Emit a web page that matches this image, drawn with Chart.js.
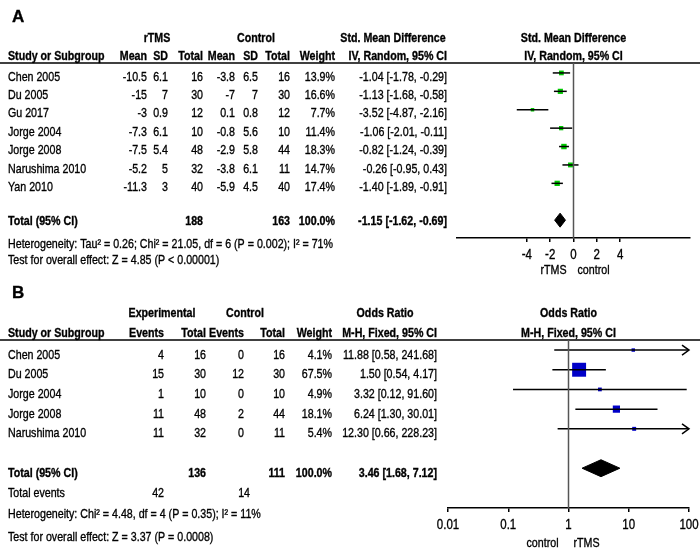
<!DOCTYPE html>
<html>
<head>
<meta charset="utf-8">
<script src="https://cdn.jsdelivr.net/npm/chart.js@4.4.0/dist/chart.umd.min.js"></script>
<style>
  body { margin: 0; background: #fff; }
  .panel { position: absolute; left: 0; width: 700px; }
  #panelA { top: 0; height: 280px; }
  #panelB { top: 280px; height: 278px; }
</style>
</head>
<body>
<div class="panel" id="panelA"><canvas id="chartA" width="700" height="280"></canvas></div>
<div class="panel" id="panelB"><canvas id="chartB" width="700" height="278"></canvas></div>
<script>
// ---- Panel A: rTMS vs control, std. mean difference ----
const studiesA = ['Chen 2005', 'Du 2005', 'Gu 2017', 'Jorge 2004', 'Jorge 2008', 'Narushima 2010', 'Yan 2010'];
const rtmsMean = [-10.5, -15, -3, -7.3, -7.5, -5.2, -11.3];
const rtmsSD = [6.1, 7, 0.9, 6.1, 5.4, 5, 3];
const rtmsTotal = [16, 30, 12, 10, 48, 32, 40];
const ctrlMean = [-3.8, -7, 0.1, -0.8, -2.9, -3.8, -5.9];
const ctrlSD = [6.5, 7, 0.8, 5.6, 5.8, 6.1, 4.5];
const ctrlTotal = [16, 30, 12, 10, 44, 11, 40];
const weightA = [13.9, 16.6, 7.7, 11.4, 18.3, 14.7, 17.4];
const smdEst = [-1.04, -1.13, -3.52, -1.06, -0.82, -0.26, -1.40];
const smdLow = [-1.78, -1.68, -4.87, -2.01, -1.24, -0.95, -1.89];
const smdHigh = [-0.29, -0.58, -2.16, -0.11, -0.39, 0.43, -0.91];
const totalA = { est: -1.15, low: -1.62, high: -0.69, n1: 188, n2: 163 };
const ticksA = [-4, -2, 0, 2, 4];

// ---- Panel B: response, odds ratio ----
const studiesB = ['Chen 2005', 'Du 2005', 'Jorge 2004', 'Jorge 2008', 'Narushima 2010'];
const expEvents = [4, 15, 1, 11, 11];
const expTotal = [16, 30, 10, 48, 32];
const ctlEvents = [0, 12, 0, 2, 0];
const ctlTotal = [16, 30, 10, 44, 11];
const weightB = [4.1, 67.5, 4.9, 18.1, 5.4];
const orEst = [11.88, 1.50, 3.32, 6.24, 12.30];
const orLow = [0.58, 0.54, 0.12, 1.30, 0.66];
const orHigh = [241.68, 4.17, 91.60, 30.01, 228.23];
const totalB = { est: 3.46, low: 1.68, high: 7.12, n1: 136, n2: 111, ev1: 42, ev2: 14 };
const ticksB = [0.01, 0.1, 1, 10, 100];

const FONT = "'Liberation Sans', Arial, sans-serif";
const NARROW = 0.82; // squeeze to look like Arial Narrow
const GREEN = '#00c800';
const BLUE = '#0000c8';

function txt(ctx, s, x, y, align, bold, size, squeeze) {
  ctx.save();
  ctx.font = (bold ? 'bold ' : '') + (size || 13) + 'px ' + FONT;
  ctx.textAlign = align || 'left';
  ctx.textBaseline = 'middle';
  ctx.fillStyle = '#000';
  ctx.strokeStyle = '#000';
  ctx.lineWidth = 0.35;
  ctx.translate(x, y);
  ctx.scale(squeeze || NARROW, 1);
  ctx.fillText(s, 0, 0);
  ctx.strokeText(s, 0, 0);
  ctx.restore();
}

function ci(est, lo, hi) {
  return est.toFixed(2) + ' [' + lo.toFixed(2) + ', ' + hi.toFixed(2) + ']';
}

// CI whiskers: one small line dataset per study
function whiskers(lows, highs) {
  return lows.map((lo, i) => ({
    data: [{ x: lo, y: i }, { x: highs[i], y: i }],
    borderColor: '#000',
    borderWidth: 1.5,
    pointRadius: 0
  }));
}

function diamond(t, row, half) {
  return {
    data: [
      { x: t.low, y: row }, { x: t.est, y: row - half },
      { x: t.high, y: row }, { x: t.est, y: row + half }, { x: t.low, y: row }
    ],
    borderColor: '#000',
    borderWidth: 1,
    backgroundColor: '#000',
    fill: 'shape',
    pointRadius: 0
  };
}

// tick labels are drawn by the plugin (narrow font), Chart.js draws axis line + tick marks
function commonX(extra) {
  return Object.assign({
    position: 'bottom',
    afterFit: (s) => { s.height = extra.h; },
    grid: { drawOnChartArea: false, drawTicks: true, tickLength: 4, color: '#000', lineWidth: 1.5 },
    border: { display: true, color: '#000', width: 1.5 },
    ticks: { display: false, autoSkip: false }
  }, extra.opts);
}

function drawTickLabels(ctx, scale, fmt) {
  scale.ticks.forEach(t => {
    txt(ctx, fmt(t.value), scale.getPixelForValue(t.value), scale.top + 17, 'center', false, 14);
  });
}

// ---- Chart A ----
const rowA = studiesA.length + 1; // total row after one blank row
const tablePluginA = {
  id: 'tableA',
  afterDraw(chart) {
    const ctx = chart.ctx;
    const x = chart.scales.x, y = chart.scales.y;
    const area = chart.chartArea;
    ctx.save();
    // letter and headers
    txt(ctx, 'A', 12, 17, 'left', true, 17, 1);
    txt(ctx, 'rTMS', 157, 38, 'center', true);
    txt(ctx, 'Control', 256, 38, 'center', true);
    txt(ctx, 'Std. Mean Difference', 393, 38, 'center', true);
    txt(ctx, 'Std. Mean Difference', x.getPixelForValue(0), 38, 'center', true);
    txt(ctx, 'Study or Subgroup', 8, 56, 'left', true);
    const cols = [147, 168, 203, 235, 258, 290, 335, 447];
    const heads = ['Mean', 'SD', 'Total', 'Mean', 'SD', 'Total', 'Weight', 'IV, Random, 95% CI'];
    heads.forEach((h, i) => txt(ctx, h, cols[i], 56, 'right', true));
    txt(ctx, 'IV, Random, 95% CI', x.getPixelForValue(0), 56, 'center', true);
    // header rule
    ctx.strokeStyle = '#000';
    ctx.lineWidth = 1.5;
    ctx.beginPath(); ctx.moveTo(0, area.top); ctx.lineTo(700, area.top); ctx.stroke();
    // null effect line
    ctx.strokeStyle = '#555';
    ctx.lineWidth = 1.5;
    const zx = x.getPixelForValue(0);
    ctx.beginPath(); ctx.moveTo(zx, area.top); ctx.lineTo(zx, area.bottom); ctx.stroke();
    // rows
    studiesA.forEach((s, i) => {
      const py = y.getPixelForValue(i) + 4;
      txt(ctx, s, 8, py, 'left');
      const vals = [rtmsMean[i], rtmsSD[i], rtmsTotal[i], ctrlMean[i], ctrlSD[i], ctrlTotal[i]].map(String);
      vals.push(weightA[i].toFixed(1) + '%');
      vals.push(ci(smdEst[i], smdLow[i], smdHigh[i]));
      vals.forEach((v, j) => txt(ctx, v, cols[j], py, 'right'));
    });
    const ty = y.getPixelForValue(rowA) + 1;
    txt(ctx, 'Total (95% CI)', 8, ty, 'left', true);
    txt(ctx, String(totalA.n1), cols[2], ty, 'right', true);
    txt(ctx, String(totalA.n2), cols[5], ty, 'right', true);
    txt(ctx, '100.0%', cols[6], ty, 'right', true);
    txt(ctx, ci(totalA.est, totalA.low, totalA.high), cols[7], ty, 'right', true);
    txt(ctx, 'Heterogeneity: Tau\u00b2 = 0.26; Chi\u00b2 = 21.05, df = 6 (P = 0.002); I\u00b2 = 71%', 8, 244, 'left');
    txt(ctx, 'Test for overall effect: Z = 4.85 (P < 0.00001)', 8, 260, 'left');
    // axis labels and caption
    drawTickLabels(ctx, x, v => String(v));
    txt(ctx, 'rTMS', zx - 20, 270, 'center');
    txt(ctx, 'control', zx + 20, 270, 'center');
    ctx.restore();
  }
};

new Chart(document.getElementById('chartA'), {
  type: 'line',
  data: {
    datasets: [
      ...whiskers(smdLow, smdHigh),
      {
        data: smdEst.map((v, i) => ({ x: v, y: i })),
        showLine: false,
        pointStyle: 'rect',
        pointRadius: weightA.map(w => 0.9 * Math.sqrt(w)),
        pointBackgroundColor: GREEN,
        pointBorderWidth: 0
      },
      diamond(totalA, rowA, 0.38)
    ]
  },
  options: {
    responsive: false,
    animation: false,
    events: [],
    layout: { padding: { left: 457, right: 10, top: 63, bottom: 0 } },
    plugins: { legend: { display: false }, tooltip: { enabled: false } },
    scales: {
      x: commonX({
        h: 42,
        opts: {
          type: 'linear', min: -10, max: 10,
          afterBuildTicks: (s) => { s.ticks = ticksA.map(v => ({ value: v })); }
        }
      }),
      y: { type: 'linear', reverse: true, min: -0.54, max: 8.97, display: false }
    }
  },
  plugins: [tablePluginA]
});

// ---- Chart B ----
const rowB = studiesB.length + 1;
const tablePluginB = {
  id: 'tableB',
  afterDraw(chart) {
    const ctx = chart.ctx;
    const x = chart.scales.x, y = chart.scales.y;
    const area = chart.chartArea;
    ctx.save();
    txt(ctx, 'B', 12, 13, 'left', true, 17, 1);
    txt(ctx, 'Experimental', 162, 33, 'center', true);
    txt(ctx, 'Control', 245, 33, 'center', true);
    txt(ctx, 'Odds Ratio', 385, 33, 'center', true);
    txt(ctx, 'Odds Ratio', x.getPixelForValue(1), 33, 'center', true);
    txt(ctx, 'Study or Subgroup', 8, 53, 'left', true);
    const cols = [164, 206, 244, 285, 332, 437];
    const heads = ['Events', 'Total', 'Events', 'Total', 'Weight', 'M-H, Fixed, 95% CI'];
    heads.forEach((h, i) => txt(ctx, h, cols[i], 53, 'right', true));
    txt(ctx, 'M-H, Fixed, 95% CI', x.getPixelForValue(1), 53, 'center', true);
    ctx.strokeStyle = '#000';
    ctx.lineWidth = 1.5;
    ctx.beginPath(); ctx.moveTo(0, area.top); ctx.lineTo(700, area.top); ctx.stroke();
    ctx.strokeStyle = '#555';
    const ox = x.getPixelForValue(1);
    ctx.beginPath(); ctx.moveTo(ox, area.top); ctx.lineTo(ox, area.bottom); ctx.stroke();
    // arrow heads where the CI runs past the axis
    ctx.strokeStyle = '#000';
    ctx.lineWidth = 1.5;
    studiesB.forEach((s, i) => {
      if (orHigh[i] > x.max) {
        const ax = x.getPixelForValue(x.max), ay = y.getPixelForValue(i);
        ctx.beginPath();
        ctx.moveTo(ax - 7, ay - 5); ctx.lineTo(ax, ay); ctx.lineTo(ax - 7, ay + 5);
        ctx.stroke();
      }
    });
    studiesB.forEach((s, i) => {
      const py = y.getPixelForValue(i) + 5;
      txt(ctx, s, 8, py, 'left');
      const vals = [expEvents[i], expTotal[i], ctlEvents[i], ctlTotal[i]].map(String);
      vals.push(weightB[i].toFixed(1) + '%');
      vals.push(ci(orEst[i], orLow[i], orHigh[i]));
      vals.forEach((v, j) => txt(ctx, v, cols[j], py, 'right'));
    });
    const ty = y.getPixelForValue(rowB) + 5;
    txt(ctx, 'Total (95% CI)', 8, ty, 'left', true);
    txt(ctx, String(totalB.n1), cols[1], ty, 'right', true);
    txt(ctx, String(totalB.n2), cols[3], ty, 'right', true);
    txt(ctx, '100.0%', cols[4], ty, 'right', true);
    txt(ctx, ci(totalB.est, totalB.low, totalB.high), cols[5], ty, 'right', true);
    txt(ctx, 'Total events', 8, 213, 'left');
    txt(ctx, String(totalB.ev1), cols[0], 213, 'right');
    txt(ctx, String(totalB.ev2), 250, 213, 'right');
    txt(ctx, 'Heterogeneity: Chi\u00b2 = 4.48, df = 4 (P = 0.35); I\u00b2 = 11%', 8, 234, 'left');
    txt(ctx, 'Test for overall effect: Z = 3.37 (P = 0.0008)', 8, 257, 'left');
    drawTickLabels(ctx, x, v => String(v));
    txt(ctx, 'control', ox - 26, 263, 'center');
    txt(ctx, 'rTMS', ox + 18, 263, 'center');
    ctx.restore();
  }
};

new Chart(document.getElementById('chartB'), {
  type: 'line',
  data: {
    datasets: [
      ...whiskers(orLow, orHigh),
      {
        data: orEst.map((v, i) => ({ x: v, y: i })),
        showLine: false,
        pointStyle: 'rect',
        pointRadius: weightB.map(w => 1.2 * Math.sqrt(w)),
        pointBackgroundColor: BLUE,
        pointBorderWidth: 0
      },
      diamond(totalB, rowB, 0.43)
    ]
  },
  options: {
    responsive: false,
    animation: false,
    events: [],
    layout: { padding: { left: 448, right: 11, top: 60, bottom: 0 } },
    plugins: { legend: { display: false }, tooltip: { enabled: false } },
    scales: {
      x: commonX({
        h: 50,
        opts: {
          type: 'logarithmic', min: 0.01, max: 100,
          afterBuildTicks: (s) => { s.ticks = ticksB.map(v => ({ value: v })); }
        }
      }),
      y: { type: 'linear', reverse: true, min: -0.51, max: 8.02, display: false }
    }
  },
  plugins: [tablePluginB]
});
</script>
</body>
</html>
